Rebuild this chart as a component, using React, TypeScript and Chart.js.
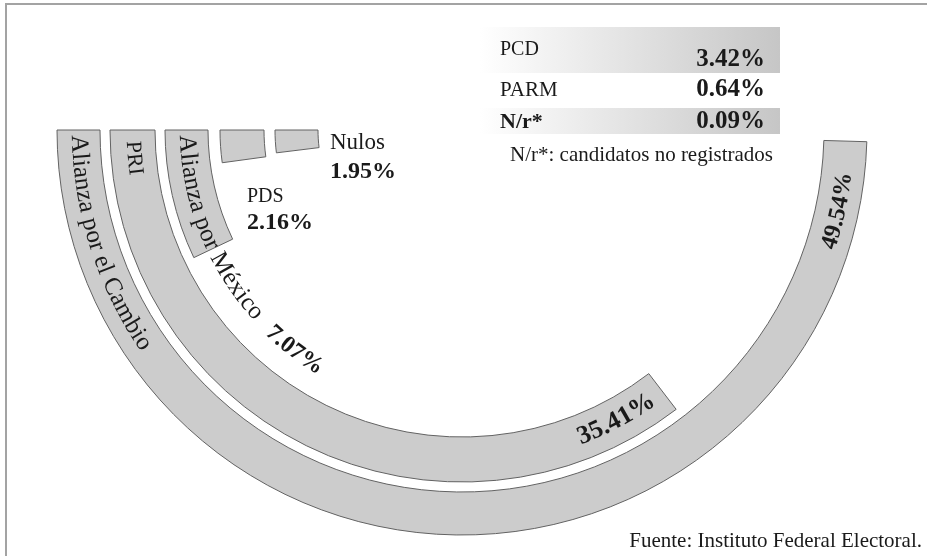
import React, { useEffect, useRef } from 'react';
import { Chart, registerables } from 'chart.js';

Chart.register(...registerables);

// ---- data ----
const categories = ['Alianza por el Cambio', 'PRI', 'Alianza por México', 'PDS', 'Nulos'];
const shares = [49.54, 35.41, 7.07, 2.16, 1.95];
const ringWeights = [43, 45, 43, 44, 43];
const gapWeights = [10, 10, 12, 11];
const minorParties = ['PCD', 'PARM', 'N/r*'];
const minorShares = [3.42, 0.64, 0.09];
const footnote = 'N/r*: candidatos no registrados';
const sourceNote = 'Fuente: Instituto Federal Electoral.';

const W = 927;
const H = 556;
const FILL = '#cccccc';
const EDGE = '#626262';
const INK = '#1a1a1a';
const SERIF = '"Liberation Serif", "Times New Roman", serif';
const CLEAR = 'rgba(0,0,0,0)';

const pct = (v: number) => v.toFixed(2) + '%';

function curvedText(ctx: CanvasRenderingContext2D, text: string, cx: number, cy: number, r: number, phiStart: number, font: string) {
  ctx.save();
  ctx.font = font;
  ctx.fillStyle = INK;
  ctx.textAlign = 'center';
  ctx.textBaseline = 'middle';
  let phi = phiStart;
  for (const ch of text) {
    const w = ctx.measureText(ch).width;
    const pc = phi - w / (2 * r);
    ctx.save();
    ctx.translate(cx + r * Math.cos(pc), cy + r * Math.sin(pc));
    ctx.rotate(pc - Math.PI / 2);
    ctx.fillText(ch, 0, 0);
    ctx.restore();
    phi -= w / r;
  }
  ctx.restore();
  return phi;
}

function textWidth(ctx: CanvasRenderingContext2D, text: string, font: string) {
  ctx.save();
  ctx.font = font;
  let w = 0;
  for (const ch of text) w += ctx.measureText(ch).width;
  ctx.restore();
  return w;
}

function flatText(ctx: CanvasRenderingContext2D, text: string, x: number, y: number, font: string, align: CanvasTextAlign = 'left') {
  ctx.save();
  ctx.font = font;
  ctx.fillStyle = INK;
  ctx.textAlign = align;
  ctx.textBaseline = 'alphabetic';
  ctx.fillText(text, x, y);
  ctx.restore();
}

const ringIndex = (i: number) => i * 2;

const labelPlugin = {
  id: 'labels',
  afterDraw(chart: any) {
    const ctx: CanvasRenderingContext2D = chart.ctx;
    const arcOf = (i: number) => chart.getDatasetMeta(ringIndex(i)).data[1] as any;

    // frame
    ctx.save();
    ctx.strokeStyle = '#a3a3a3';
    ctx.lineWidth = 2;
    ctx.beginPath();
    ctx.moveTo(6, H);
    ctx.lineTo(6, 4);
    ctx.lineTo(W, 4);
    ctx.stroke();
    ctx.restore();

    // ring 0: Alianza por el Cambio
    {
      const a = arcOf(0);
      const r = (a.innerRadius + a.outerRadius) / 2;
      curvedText(ctx, categories[0], a.x, a.y, r, a.endAngle - 5 / r, `25px ${SERIF}`);
      const f = `bold 24px ${SERIF}`;
      const w = textWidth(ctx, pct(shares[0]), f);
      curvedText(ctx, pct(shares[0]), a.x, a.y, r + 2, a.startAngle + (31 + w) / r, f);
    }
    // ring 1: PRI
    {
      const a = arcOf(1);
      const r = (a.innerRadius + a.outerRadius) / 2;
      curvedText(ctx, categories[1], a.x, a.y, r, a.endAngle - 11 / r, `22px ${SERIF}`);
      const f = `bold 26px ${SERIF}`;
      const w = textWidth(ctx, pct(shares[1]), f);
      curvedText(ctx, pct(shares[1]), a.x, a.y, r, a.startAngle + (12 + w) / r, f);
    }
    // ring 2: Alianza por México
    {
      const a = arcOf(2);
      const r = (a.innerRadius + a.outerRadius) / 2;
      const end = curvedText(ctx, categories[2], a.x, a.y, r, a.endAngle - 5 / r, `25px ${SERIF}`);
      curvedText(ctx, pct(shares[2]), a.x, a.y, r + 2, end - 16 / r, `bold 24px ${SERIF}`);
    }
    // PDS & Nulos
    flatText(ctx, categories[3], 247, 202, `20px ${SERIF}`);
    flatText(ctx, pct(shares[3]), 247, 229, `bold 24px ${SERIF}`);
    flatText(ctx, categories[4], 330, 149, `23px ${SERIF}`);
    flatText(ctx, pct(shares[4]), 330, 178, `bold 24px ${SERIF}`);

    // minor parties box
    const rows = [
      { top: 27, bottom: 73, shade: true, base: 55, vbase: 66, nameFont: `20px ${SERIF}` },
      { top: 73, bottom: 108, shade: false, base: 96, vbase: 96, nameFont: `21px ${SERIF}` },
      { top: 108, bottom: 134, shade: true, base: 128, vbase: 128, nameFont: `bold 22px ${SERIF}` },
    ];
    rows.forEach((row, i) => {
      if (row.shade) {
        const g = ctx.createLinearGradient(480, 0, 780, 0);
        g.addColorStop(0, '#ffffff');
        g.addColorStop(1, '#c6c6c6');
        ctx.fillStyle = g;
        ctx.fillRect(480, row.top, 300, row.bottom - row.top);
      }
      flatText(ctx, minorParties[i], 500, row.base, row.nameFont);
      flatText(ctx, pct(minorShares[i]), 765, row.vbase, `bold 25px ${SERIF}`, 'right');
    });
    flatText(ctx, footnote, 510, 161, `21px ${SERIF}`);
    flatText(ctx, sourceNote, 922, 547, `21px ${SERIF}`, 'right');
  },
};

export default function App() {
  const ref = useRef<HTMLCanvasElement | null>(null);
  useEffect(() => {
    if (!ref.current) return;
    const datasets: any[] = [];
    shares.forEach((v, i) => {
      datasets.push({
        label: categories[i],
        data: [100 - v, v],
        backgroundColor: [CLEAR, FILL],
        borderColor: [CLEAR, EDGE],
        borderWidth: [0, 1],
        weight: ringWeights[i],
        clip: false,
      });
      if (i < gapWeights.length) {
        datasets.push({
          label: 'gap',
          data: [100],
          backgroundColor: [CLEAR],
          borderWidth: 0,
          weight: gapWeights[i],
          clip: false,
        });
      }
    });
    const chart = new Chart(ref.current, {
      type: 'doughnut',
      data: { labels: ['', ''], datasets },
      options: {
        responsive: false,
        animation: false,
        events: [],
        rotation: 270,
        circumference: 360,
        cutout: '35.556%',
        radius: 405,
        layout: { padding: { left: 0, right: 3, top: 0, bottom: 296 } },
        plugins: { legend: { display: false }, tooltip: { enabled: false } },
      } as any,
      plugins: [labelPlugin],
    });
    return () => chart.destroy();
  }, []);
  return (
    <div style={{ position: 'absolute', left: 0, top: 0, width: W, height: H, background: '#fff' }}>
      <canvas ref={ref} width={W} height={H} style={{ display: 'block', width: W, height: H }} />
    </div>
  );
}
